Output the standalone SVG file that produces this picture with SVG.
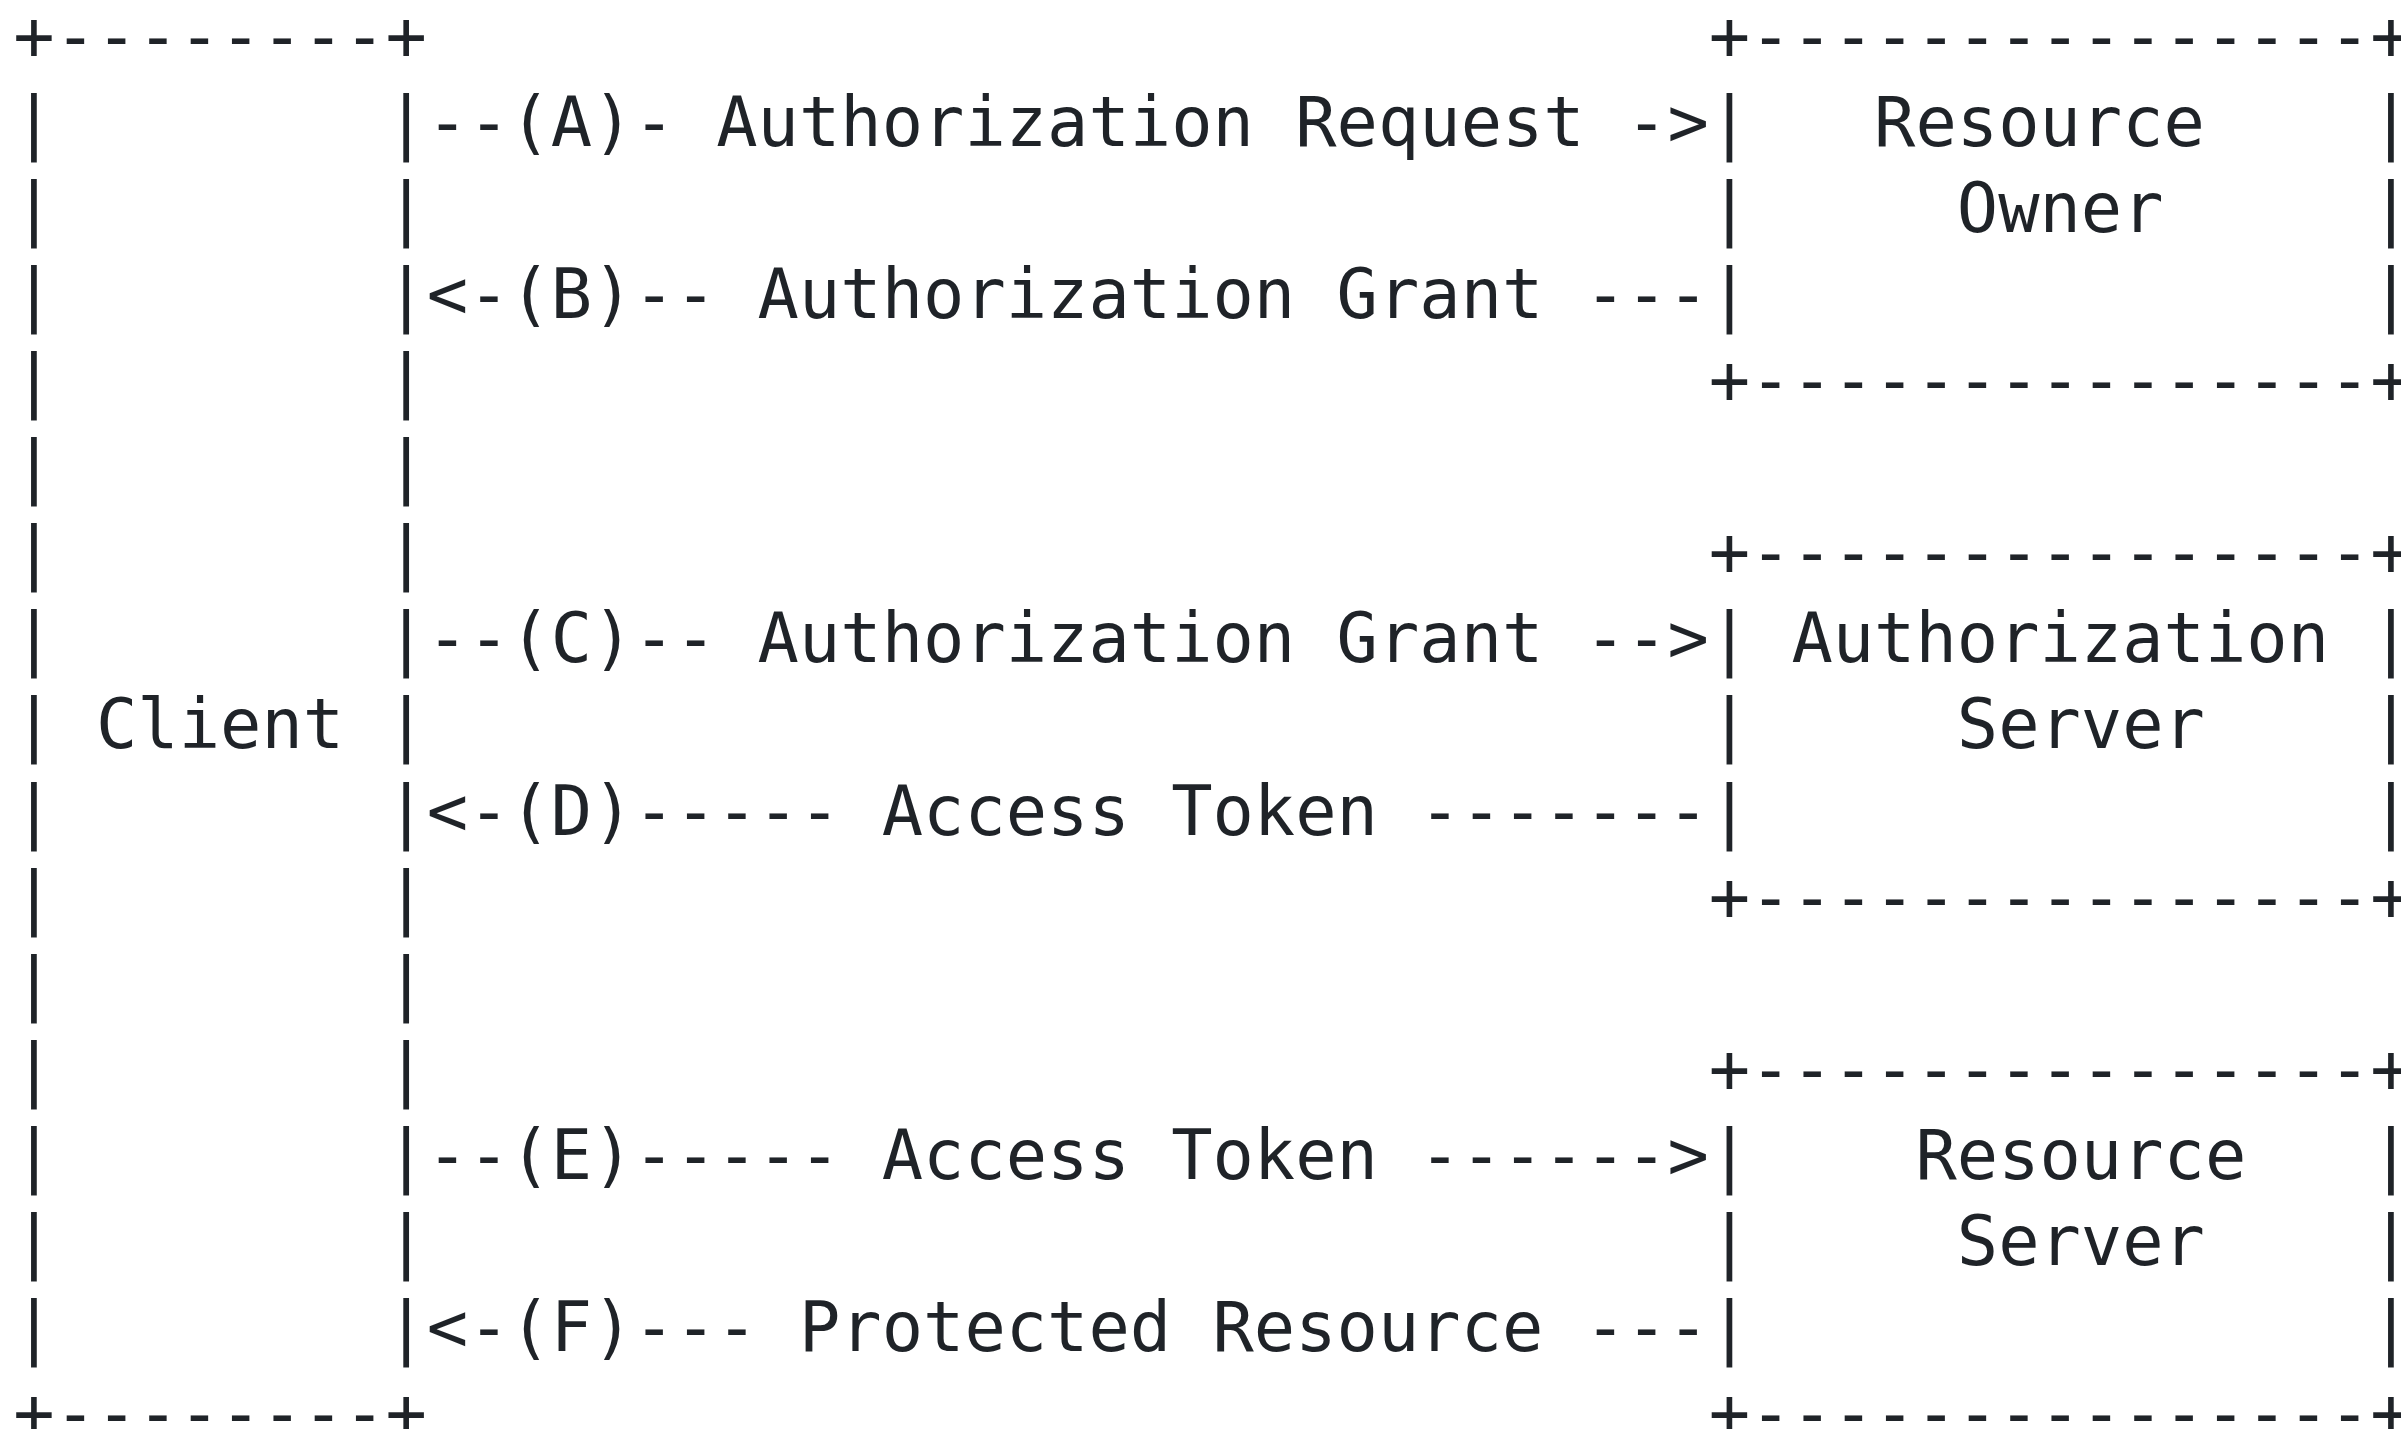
<svg xmlns="http://www.w3.org/2000/svg" width="2401" height="1429" viewBox="0 0 2401 1429" xml:space="preserve">
<style>
text{font-family:"DejaVu Sans Mono","Liberation Mono",monospace;font-size:68.7px;fill:#1f2328;white-space:pre}
</style>
<rect x="0" y="0" width="2401" height="1429" fill="#ffffff"/>
<g id="client">
<text><tspan x="13.3" y="59.6">+--------+</tspan><tspan x="13.3" y="145.7">|        |</tspan><tspan x="13.3" y="231.8">|        |</tspan><tspan x="13.3" y="317.9">|        |</tspan><tspan x="13.3" y="404">|        |</tspan><tspan x="13.3" y="490.1">|        |</tspan><tspan x="13.3" y="576.2">|        |</tspan><tspan x="13.3" y="662.3">|        |</tspan><tspan x="13.3" y="748.4">| Client |</tspan><tspan x="13.3" y="834.5">|        |</tspan><tspan x="13.3" y="920.6">|        |</tspan><tspan x="13.3" y="1006.7">|        |</tspan><tspan x="13.3" y="1092.8">|        |</tspan><tspan x="13.3" y="1178.9">|        |</tspan><tspan x="13.3" y="1265">|        |</tspan><tspan x="13.3" y="1351.1">|        |</tspan><tspan x="13.3" y="1437.2">+--------+</tspan></text>
</g>
<g id="resource-owner">
<text><tspan x="1708.7" y="59.6">+---------------+</tspan><tspan x="1708.7" y="145.7">|   Resource    |</tspan><tspan x="1708.7" y="231.8">|     Owner     |</tspan><tspan x="1708.7" y="317.9">|               |</tspan><tspan x="1708.7" y="404">+---------------+</tspan></text>
</g>
<g id="authorization-server">
<text><tspan x="1708.7" y="576.2">+---------------+</tspan><tspan x="1708.7" y="662.3">| Authorization |</tspan><tspan x="1708.7" y="748.4">|     Server    |</tspan><tspan x="1708.7" y="834.5">|               |</tspan><tspan x="1708.7" y="920.6">+---------------+</tspan></text>
</g>
<g id="resource-server">
<text><tspan x="1708.7" y="1092.8">+---------------+</tspan><tspan x="1708.7" y="1178.9">|    Resource   |</tspan><tspan x="1708.7" y="1265">|     Server    |</tspan><tspan x="1708.7" y="1351.1">|               |</tspan><tspan x="1708.7" y="1437.2">+---------------+</tspan></text>
</g>
<g id="connectors">
<text x="426.8" y="145.7">--(A)- Authorization Request -&gt;</text>
<text x="426.8" y="317.9">&lt;-(B)-- Authorization Grant ---</text>
<text x="426.8" y="662.3">--(C)-- Authorization Grant --&gt;</text>
<text x="426.8" y="834.5">&lt;-(D)----- Access Token -------</text>
<text x="426.8" y="1178.9">--(E)----- Access Token ------&gt;</text>
<text x="426.8" y="1351.1">&lt;-(F)--- Protected Resource ---</text>
</g>
</svg>
